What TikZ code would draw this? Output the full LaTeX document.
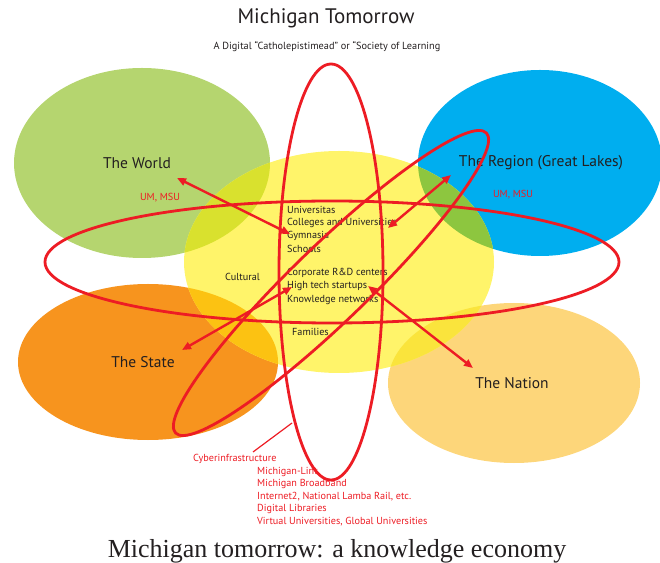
\documentclass[tikz,border=0pt]{standalone}
\usepackage{fontspec}
\setmainfont{PT Sans}
\newfontfamily\capfont{Liberation Serif}
\usetikzlibrary{arrows.meta}
\definecolor{cgreen}{HTML}{B5D56F}
\definecolor{cblue}{HTML}{00AEEF}
\definecolor{cyellow}{HTML}{FFF46A}
\definecolor{corange}{HTML}{F7941E}
\definecolor{cnation}{HTML}{FDD67A}
\definecolor{ovgreen}{HTML}{D9E12E}
\definecolor{ovblue}{HTML}{8DC63F}
\definecolor{ovorange}{HTML}{FCC212}
\definecolor{ovnation}{HTML}{FAE43C}
\definecolor{cred}{HTML}{ED1C24}
\definecolor{ctext}{HTML}{231F20}
\tikzset{
  redring/.style={draw=cred,line width=2.8pt},
  redarrow/.style={draw=cred,line width=2.4pt,{Triangle[length=9pt,width=7.5pt]}-{Triangle[length=9pt,width=7.5pt]}},
  bigtxt/.style={text=ctext,font=\fontsize{15.5}{18}\selectfont,inner sep=0pt},
  smalltxt/.style={text=ctext,font=\fontsize{10.2}{12}\selectfont,inner sep=0pt,anchor=west},
  redtxt/.style={text=cred,font=\fontsize{10.2}{12}\selectfont,inner sep=0pt,anchor=west},
}
\begin{document}
\begin{tikzpicture}[x=1pt,y=1pt]
\useasboundingbox (0,0) rectangle (660,562);
% coloured ellipses
\fill[cgreen] (142,399) ellipse [x radius=128,y radius=95];
\fill[cblue] (540,399) ellipse [x radius=122,y radius=93];
\fill[corange] (148,200) ellipse [x radius=130,y radius=78];
\fill[cnation] (514,179) ellipse [x radius=126,y radius=80];
\fill[cyellow] (339,300) ellipse [x radius=155,y radius=111];
\begin{scope}
  \clip (339,300) ellipse [x radius=155,y radius=111];
  \fill[ovgreen] (142,399) ellipse [x radius=128,y radius=95];
  \fill[ovblue] (540,399) ellipse [x radius=122,y radius=93];
  \fill[ovorange] (148,200) ellipse [x radius=130,y radius=78];
  \fill[ovnation] (514,179) ellipse [x radius=126,y radius=80];
\end{scope}
% titles
\node[text=ctext,font=\fontsize{21}{24}\selectfont,inner sep=0pt] (title) at (326,544) {Michigan Tomorrow};
\node[text=ctext,font=\fontsize{10.3}{12}\selectfont,inner sep=0pt] (subtitle) at (327,515) {A Digital “Catholepistimead” or “Society of Learning};
\node[text=ctext,font=\capfont\fontsize{26}{30}\selectfont,inner sep=0pt] (caption) at (337,11) {Michigan tomorrow: a knowledge economy};
% region labels
\node[bigtxt] (world) at (137,399) {The World};
\node[bigtxt] (region) at (541,399) {The Region (Great Lakes)};
\node[bigtxt] (state) at (143,200) {The State};
\node[bigtxt] (nation) at (512,179) {The Nation};
\node[redtxt,anchor=center] (umw) at (160,364) {UM, MSU};
\node[redtxt,anchor=center] (umr) at (513,367) {UM, MSU};
% centre labels
\node[smalltxt] (univ) at (287,352) {Universitas};
\node[smalltxt] (coll) at (287,339) {Colleges and Universities};
\node[smalltxt] (gymn) at (287,326) {Gymnasia};
\node[smalltxt] (scho) at (287,313) {Schools};
\node[smalltxt] (corp) at (287,289) {Corporate R\&D centers};
\node[smalltxt] (high) at (287,276) {High tech startups};
\node[smalltxt] (know) at (287,262) {Knowledge networks};
\node[smalltxt] (cult) at (225,285) {Cultural};
\node[smalltxt] (fam) at (292,230) {Families};
% cyberinfrastructure
\node[redtxt] (cyber) at (193,103) {Cyberinfrastructure};
\node[redtxt] (c1) at (257,90) {Michigan-Lint};
\node[redtxt] (c2) at (257,78) {Michigan Broadband};
\node[redtxt] (c3) at (257,65) {Internet2, National Lamba Rail, etc.};
\node[redtxt] (c4) at (257,53) {Digital Libraries};
\node[redtxt] (c5) at (257,40) {Virtual Universities, Global Universities};
% red rings
\draw[redring] (332,300) ellipse [x radius=287,y radius=61];
\draw[redring] (331,290) ellipse [x radius=52,y radius=208];
\draw[redring,rotate around={44:(331,279)}] (331,279) ellipse [x radius=216,y radius=38];
% arrows
\coordinate (wa) at (177,384);
\coordinate (wb) at (290,328);
\coordinate (ra) at (451,387);
\coordinate (rb) at (388,334);
\coordinate (sa) at (182,212);
\coordinate (sb) at (292,275);
\coordinate (na) at (368,276);
\coordinate (nb) at (473,194);
\coordinate (cyA) at (253,110);
\coordinate (cyB) at (292,139);
\draw[redarrow] (wa) -- (wb);
\draw[redarrow] (ra) -- (rb);
\draw[redarrow] (sa) -- (sb);
\draw[redarrow] (na) -- (nb);
\draw[cred,line width=1.2pt] (cyA) -- (cyB);
\end{tikzpicture}
\end{document}
